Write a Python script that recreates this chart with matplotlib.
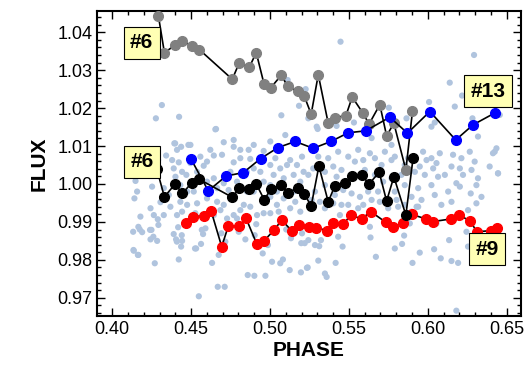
import matplotlib
matplotlib.use("Agg")
import matplotlib.pyplot as plt
from matplotlib.ticker import MultipleLocator

plt.rcParams['font.family'] = ['Liberation Sans', 'DejaVu Sans']

# background field stars (phase, flux)
field = [
    (0.4315, 1.0208), (0.4277, 1.0173), (0.4424, 1.0177), (0.4658, 1.0145), (0.5072, 1.0181),
    (0.5112, 1.0274), (0.5226, 1.0250), (0.5184, 1.0206), (0.5243, 1.0173), (0.5447, 1.0375),
    (0.6293, 1.0340), (0.6139, 1.0267), (0.6217, 1.0233), (0.6171, 1.0204), (0.6325, 1.0208),
    (0.6456, 1.0182), (0.6283, 1.0173), (0.6008, 1.0216), (0.5865, 1.0173), (0.5753, 1.0201),
    (0.5532, 1.0162), (0.5296, 1.0151), (0.5422, 1.0153), (0.6044, 1.0162),
    (0.4654, 1.0144), (0.4394, 1.0107), (0.4437, 1.0098), (0.4496, 1.0103), (0.4342, 1.0075),
    (0.4291, 1.0063), (0.4179, 1.0028), (0.4148, 1.0008), (0.4253, 0.9993), (0.4158, 0.9980),
    (0.4141, 0.9962), (0.4306, 0.9952), (0.4179, 0.9914), (0.4264, 0.9918), (0.4289, 0.9907),
    (0.4390, 1.0041), (0.4380, 1.0063), (0.4422, 1.0057), (0.4443, 1.0032), (0.4470, 1.0024),
    (0.4401, 1.0019), (0.4411, 1.0090), (0.4559, 1.0072), (0.4580, 1.0048), (0.4644, 1.0075),
    (0.4707, 1.0110), (0.4770, 1.0098), (0.4812, 1.0090), (0.4865, 1.0090), (0.4770, 1.0057),
    (0.4875, 1.0066), (0.4960, 1.0087), (0.4897, 1.0041), (0.4939, 1.0032), (0.5002, 1.0050),
    (0.5023, 1.0024), (0.5128, 1.0063), (0.5171, 1.0050), (0.5203, 1.0072), (0.5213, 1.0032),
    (0.5097, 1.0129), (0.4517, 0.9980), (0.4601, 0.9962), (0.4538, 0.9949), (0.4665, 0.9953),
    (0.4707, 0.9945), (0.4644, 0.9918), (0.4728, 0.9909), (0.4834, 0.9945), (0.4875, 0.9940),
    (0.4960, 0.9923), (0.5044, 0.9945), (0.5128, 0.9936), (0.5192, 0.9927), (0.5087, 0.9962),
    (0.4897, 0.9980), (0.4443, 0.9927), (0.4369, 0.9940), (0.4411, 0.9918), (0.4243, 0.9936),
    (0.4399, 1.0107), (0.4483, 1.0103), (0.4166, 0.9887), (0.4135, 0.9826), (0.4166, 0.9813),
    (0.4240, 0.9879), (0.4261, 0.9861), (0.4410, 0.9848), (0.4525, 0.9830), (0.4568, 0.9879),
    (0.4441, 0.9865),
    (0.4133, 0.9874), (0.4175, 0.9880), (0.4190, 0.9873), (0.4137, 0.9824), (0.4163, 0.9813),
    (0.4243, 0.9854), (0.4285, 0.9850), (0.4249, 0.9879), (0.4293, 0.9892), (0.4270, 0.9791),
    (0.4390, 0.9868), (0.4418, 0.9886), (0.4405, 0.9854), (0.4443, 0.9850), (0.4437, 0.9835),
    (0.4422, 0.9801), (0.4532, 0.9830), (0.4563, 0.9842), (0.4576, 0.9868), (0.4591, 0.9883),
    (0.4633, 0.9792), (0.4675, 0.9813), (0.4692, 0.9870), (0.4717, 0.9848), (0.4669, 0.9729),
    (0.4713, 0.9729), (0.4549, 0.9704), (0.4844, 0.9854), (0.4802, 0.9874), (0.4913, 0.9894),
    (0.4903, 0.9865), (0.4954, 0.9817), (0.4987, 0.9839), (0.4859, 0.9760), (0.4901, 0.9758),
    (0.4971, 0.9758), (0.5013, 0.9795), (0.5065, 0.9791), (0.5082, 0.9801), (0.5125, 0.9773),
    (0.5133, 0.9857), (0.5103, 0.9880), (0.5198, 0.9844), (0.5220, 0.9844), (0.5196, 0.9767),
    (0.5234, 0.9779), (0.5203, 0.9870),
    (0.5302, 1.0145), (0.5644, 1.0121), (0.5622, 1.0142), (0.6023, 1.0151), (0.6318, 1.0125),
    (0.6266, 1.0085), (0.6435, 1.0094), (0.6413, 1.0081), (0.6445, 1.0028), (0.6392, 1.0046),
    (0.6297, 1.0059), (0.6277, 1.0037), (0.6203, 1.0041), (0.6150, 1.0046), (0.6160, 1.0077),
    (0.6223, 1.0024), (0.6181, 1.0002), (0.6203, 0.9993), (0.6308, 0.9997), (0.6272, 0.9975),
    (0.6308, 0.9949), (0.6255, 0.9931), (0.6086, 0.9945), (0.6044, 0.9971), (0.6023, 0.9997),
    (0.6065, 1.0019), (0.6034, 1.0041), (0.6055, 1.0055), (0.6076, 1.0081), (0.6023, 1.0068),
    (0.5970, 1.0085), (0.5949, 1.0046), (0.5981, 1.0024), (0.5939, 0.9989), (0.5960, 0.9958),
    (0.5939, 0.9940), (0.5770, 1.0103), (0.5791, 1.0072), (0.5728, 1.0085), (0.5665, 1.0068),
    (0.5707, 1.0050), (0.5633, 1.0081), (0.5559, 1.0090), (0.5496, 1.0072), (0.5591, 1.0063),
    (0.5432, 1.0085), (0.5369, 1.0068), (0.5306, 1.0072), (0.5274, 1.0041), (0.5243, 1.0024),
    (0.5401, 1.0046), (0.5453, 1.0037), (0.5464, 0.9984), (0.5517, 0.9975), (0.5570, 0.9966),
    (0.5622, 0.9980), (0.5685, 0.9980), (0.5644, 0.9958), (0.5696, 0.9953), (0.5791, 0.9980),
    (0.5802, 0.9958), (0.5812, 0.9940), (0.5770, 1.0015), (0.5833, 1.0024), (0.5854, 0.9997),
    (0.5897, 0.9966), (0.5929, 0.9940), (0.5897, 0.9927), (0.5401, 0.9949), (0.5453, 0.9945),
    (0.5496, 0.9945), (0.5443, 0.9918), (0.5348, 0.9936), (0.5285, 0.9980), (0.5264, 0.9958),
    (0.5591, 0.9945), (0.5770, 1.0063), (0.5475, 1.0006),
    (0.5243, 0.9852), (0.5285, 0.9839), (0.5312, 0.9836), (0.5323, 0.9852), (0.5239, 0.9780),
    (0.5306, 0.9798), (0.5348, 0.9764), (0.5359, 0.9755), (0.5416, 0.9792), (0.5432, 0.9861),
    (0.5460, 0.9835), (0.5633, 0.9887), (0.5637, 0.9859), (0.5671, 0.9808), (0.5791, 0.9830),
    (0.5837, 0.9842), (0.5850, 0.9864), (0.5886, 0.9896), (0.5903, 0.9792), (0.5949, 0.9819),
    (0.6040, 0.9828), (0.6082, 0.9804), (0.6135, 0.9852), (0.6150, 0.9797), (0.6192, 0.9792),
    (0.6245, 0.9874), (0.6255, 0.9835), (0.6181, 0.9666), (0.6055, 0.9896),
    (0.6424, 1.0085), (0.6445, 1.0028),
    (0.4770, 1.0116), (0.4696, 1.0077), (0.4622, 1.0090), (0.4812, 1.0068), (0.4749, 1.0032),
    (0.4707, 1.0002), (0.4644, 1.0015), (0.4854, 1.0032), (0.5002, 0.9997), (0.5087, 1.0015),
    (0.5150, 1.0024), (0.5192, 1.0006), (0.5055, 0.9927), (0.5002, 0.9923), (0.4812, 0.9931),
    (0.4770, 0.9918), (0.4686, 0.9931), (0.4527, 0.9923), (0.4475, 0.9945), (0.4327, 0.9918),
    (0.5327, 1.0050), (0.5348, 1.0032), (0.5422, 1.0019), (0.5538, 1.0059), (0.5601, 1.0037),
    (0.5665, 1.0024), (0.5717, 1.0006), (0.5875, 1.0068), (0.5918, 1.0032), (0.5854, 1.0050),
    (0.5992, 1.0063), (0.6108, 1.0024), (0.6129, 0.9980), (0.6150, 0.9953), (0.6213, 1.0068),
    (0.6318, 1.0015), (0.6340, 0.9966), (0.5559, 0.9936), (0.5749, 0.9936), (0.5854, 0.9945),
    (0.5348, 0.9997), (0.5411, 0.9971), (0.5316, 0.9953),
    (0.4432, 0.9997), (0.4475, 0.9980), (0.4601, 1.0006), (0.4665, 0.9989), (0.4738, 0.9984),
    (0.4791, 1.0006), (0.4960, 1.0006), (0.5044, 0.9980), (0.5150, 0.9980), (0.5002, 0.9966),
    (0.4854, 0.9980), (0.5108, 1.0050), (0.5034, 1.0068), (0.5065, 1.0041), (0.4897, 1.0103),
    (0.5002, 1.0112), (0.4538, 1.0032), (0.4601, 1.0059), (0.4496, 1.0055), (0.4327, 0.9989),
    (0.4359, 0.9971), (0.4432, 0.9953), (0.4791, 0.9909), (0.4918, 0.9918), (0.5087, 0.9909),
    (0.5160, 0.9953),
]
field_phase = [p for p, f in field]
field_flux = [f for p, f in field]

# star #6 (upper, gray)
gray_phase = [0.4293, 0.4331, 0.4399, 0.4445, 0.4504, 0.4553, 0.4761, 0.4806, 0.4869, 0.4913,
              0.4962, 0.5004, 0.5072, 0.5112, 0.5175, 0.5217, 0.5261, 0.5306, 0.5369, 0.5411,
              0.5481, 0.5521, 0.5587, 0.5628, 0.5696, 0.5739, 0.5785, 0.5861, 0.5903]
gray_flux = [1.0443, 1.0346, 1.0366, 1.0378, 1.0364, 1.0354, 1.0276, 1.0320, 1.0308, 1.0346,
             1.0264, 1.0253, 1.0287, 1.0257, 1.0244, 1.0232, 1.0184, 1.0288, 1.0160, 1.0175,
             1.0180, 1.0229, 1.0188, 1.0158, 1.0209, 1.0127, 1.0160, 1.0037, 1.0192]

# star #13 (blue)
blue_phase = [0.4498, 0.4609, 0.4722, 0.4831, 0.4941, 0.5051, 0.5160, 0.5274, 0.5386, 0.5496,
              0.5606, 0.5759, 0.5871, 0.6013, 0.6177, 0.6287, 0.6424]
blue_flux = [1.0067, 0.9982, 1.0021, 1.0030, 1.0067, 1.0096, 1.0112, 1.0094, 1.0112, 1.0135,
             1.0140, 1.0176, 1.0134, 1.0191, 1.0116, 1.0156, 1.0187]

# star #6 (lower, black)
black_phase = [0.4283, 0.4331, 0.4399, 0.4445, 0.4504, 0.4553, 0.4761, 0.4806, 0.4869, 0.4913,
               0.4964, 0.5004, 0.5070, 0.5112, 0.5175, 0.5217, 0.5261, 0.5310, 0.5369, 0.5411,
               0.5475, 0.5521, 0.5580, 0.5628, 0.5692, 0.5739, 0.5785, 0.5861, 0.5907]
black_flux = [1.0039, 0.9966, 1.0000, 0.9975, 1.0003, 1.0012, 0.9965, 0.9989, 0.9987, 1.0000,
              0.9958, 0.9986, 0.9997, 0.9977, 0.9989, 0.9974, 0.9942, 1.0047, 0.9953, 0.9995,
              1.0003, 1.0021, 1.0024, 1.0000, 1.0031, 0.9955, 1.0019, 0.9918, 1.0069]

# star #9 (red)
red_phase = [0.4468, 0.4515, 0.4582, 0.4627, 0.4694, 0.4736, 0.4806, 0.4848, 0.4916, 0.4962,
             0.5027, 0.5074, 0.5137, 0.5187, 0.5248, 0.5291, 0.5363, 0.5401, 0.5464, 0.5513,
             0.5580, 0.5639, 0.5734, 0.5780, 0.5844, 0.5897, 0.5987, 0.6034, 0.6150, 0.6198,
             0.6266, 0.6312, 0.6399, 0.6441]
red_flux = [0.9896, 0.9914, 0.9916, 0.9929, 0.9835, 0.9889, 0.9889, 0.9910, 0.9842, 0.9850,
            0.9879, 0.9905, 0.9877, 0.9891, 0.9887, 0.9885, 0.9877, 0.9896, 0.9894, 0.9918,
            0.9908, 0.9927, 0.9899, 0.9887, 0.9898, 0.9920, 0.9908, 0.9901, 0.9908, 0.9918,
            0.9903, 0.9874, 0.9877, 0.9883]

labels = ['#6', '#6', '#13', '#9']
label_pos = [(0.4187, 1.0372), (0.4190, 1.0058), (0.6380, 1.0245), (0.6377, 0.9828)]

fig = plt.figure(figsize=(5.31, 3.78), dpi=100)
ax = fig.add_axes([0.183, 0.164, 0.798, 0.807])

ax.scatter(field_phase, field_flux, s=20, color='#b0c4de', edgecolors='none', zorder=1)

series = [(red_phase, red_flux, '#ff0000'),
          (gray_phase, gray_flux, '#808080'),
          (blue_phase, blue_flux, '#0000ff'),
          (black_phase, black_flux, '#000000')]
for i, (x, y, c) in enumerate(series):
    ax.plot(x, y, color='black', linewidth=1.2, marker='o', markersize=7,
            markerfacecolor=c, markeredgecolor=c, zorder=3 + i, clip_on=False)

for txt, (x, y) in zip(labels, label_pos):
    ax.text(x, y, txt, fontsize=15, fontweight='bold', ha='center', va='center', zorder=10,
            bbox=dict(boxstyle='square,pad=0.3', facecolor='#ffffb4', edgecolor='black', linewidth=0.8))

ax.set_xlim(0.3905, 0.659)
ax.set_ylim(0.9652, 1.0456)
ax.xaxis.set_major_locator(MultipleLocator(0.05))
ax.xaxis.set_minor_locator(MultipleLocator(0.01))
ax.yaxis.set_major_locator(MultipleLocator(0.01))
ax.yaxis.set_minor_locator(MultipleLocator(0.002))
ax.xaxis.set_major_formatter(plt.FormatStrFormatter('%.2f'))
ax.yaxis.set_major_formatter(plt.FormatStrFormatter('%.2f'))
ax.tick_params(which='both', direction='in', top=True, right=True, labelsize=13, width=1.0)
ax.tick_params(which='major', length=6)
ax.tick_params(which='minor', length=3)
for s in ax.spines.values():
    s.set_linewidth(1.5)

ax.set_xlabel('PHASE', fontsize=15, fontweight='bold', labelpad=2)
ax.set_ylabel('FLUX', fontsize=15, fontweight='bold', labelpad=6)

fig.savefig('out.png', dpi=100)
